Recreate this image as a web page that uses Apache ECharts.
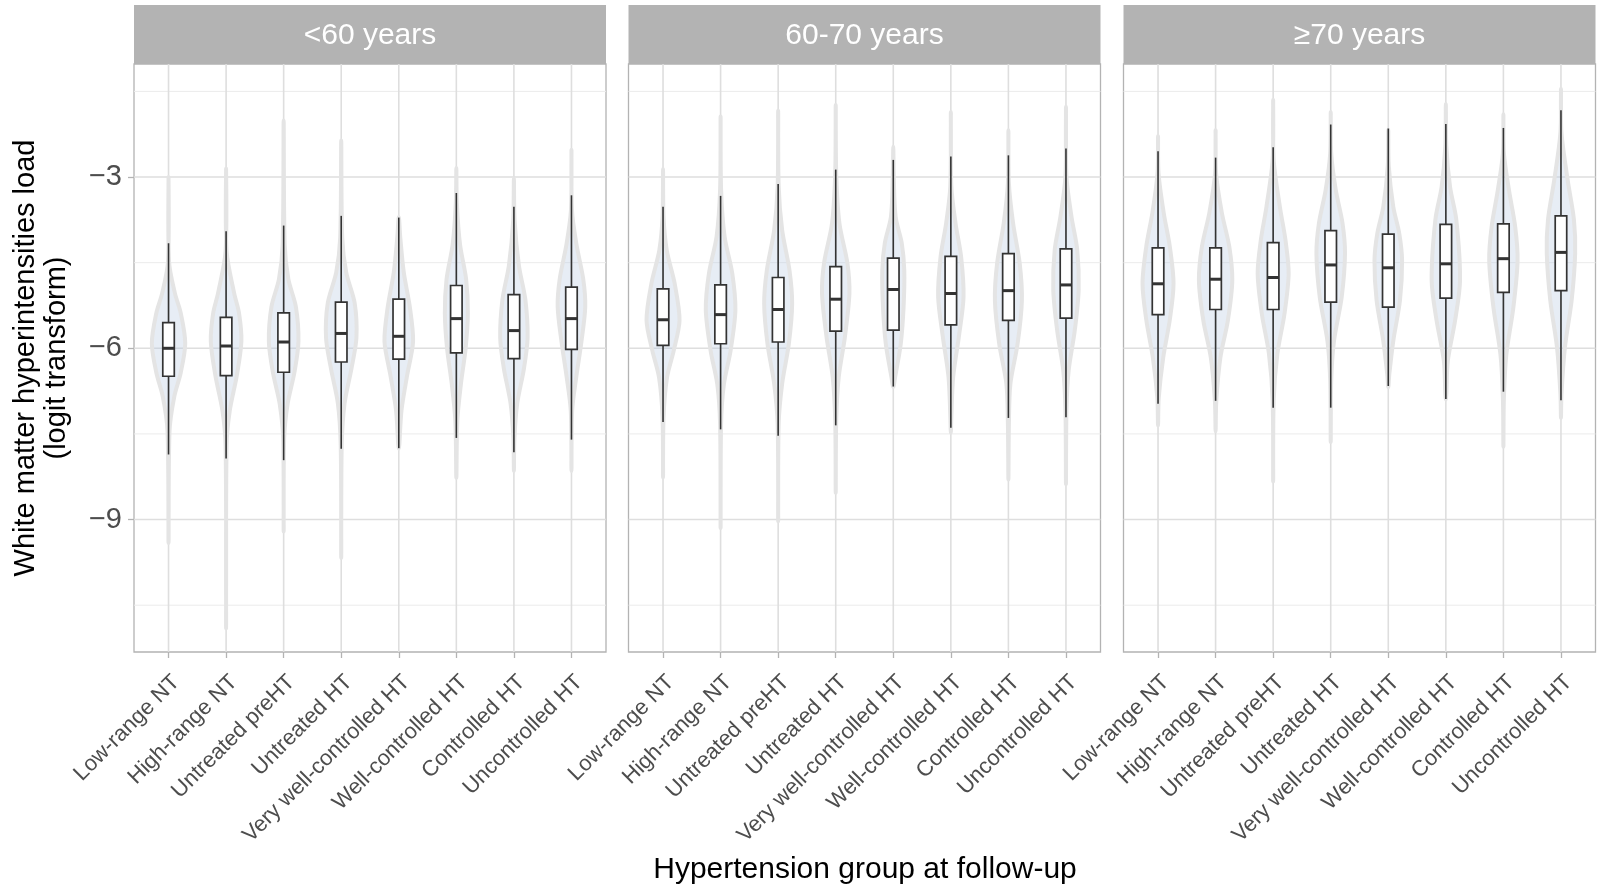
<!DOCTYPE html>
<html>
<head>
<meta charset="utf-8">
<script src="https://cdn.jsdelivr.net/npm/echarts@6.0.0/dist/echarts.min.js"></script>
<style>
html,body{margin:0;padding:0;background:#ffffff;}
#chart{width:1603px;height:885px;}
</style>
</head>
<body>
<div id="chart"></div>
<script>
// ---------------- DATA ----------------
const categories = ['Low-range NT','High-range NT','Untreated preHT','Untreated HT',
  'Very well-controlled HT','Well-controlled HT','Controlled HT','Uncontrolled HT'];
const panelTitles = ['<60 years','60-70 years','\u226570 years'];
const yTickValues = [-9, -6, -3];
const yMinorGrid = [-10.5, -7.5, -4.5, -1.5];
const xAxisTitle = 'Hypertension group at follow-up';
const yAxisTitle = 'White matter hyperintensities load\n(logit transform)';

// boxplot stats per group: [lower whisker, Q1, median, Q3, upper whisker]
const boxLt60 = [
  [-7.86,-6.49,-6.00,-5.55,-4.16],
  [-7.93,-6.48,-5.96,-5.46,-3.95],
  [-7.96,-6.42,-5.89,-5.38,-3.85],
  [-7.76,-6.24,-5.74,-5.19,-3.68],
  [-7.75,-6.19,-5.79,-5.14,-3.71],
  [-7.57,-6.08,-5.48,-4.90,-3.28],
  [-7.82,-6.18,-5.69,-5.06,-3.52],
  [-7.60,-6.02,-5.48,-4.93,-3.32]
];
const box6070 = [
  [-7.29,-5.95,-5.50,-4.96,-3.52],
  [-7.42,-5.92,-5.41,-4.89,-3.33],
  [-7.53,-5.89,-5.32,-4.76,-3.12],
  [-7.35,-5.70,-5.14,-4.57,-2.87],
  [-6.67,-5.68,-4.97,-4.42,-2.70],
  [-7.39,-5.59,-5.04,-4.39,-2.64],
  [-7.22,-5.51,-4.99,-4.34,-2.62],
  [-7.21,-5.47,-4.89,-4.26,-2.50]
];
const boxGe70 = [
  [-6.97,-5.41,-4.87,-4.24,-2.55],
  [-6.92,-5.32,-4.79,-4.24,-2.66],
  [-7.04,-5.32,-4.76,-4.15,-2.48],
  [-7.04,-5.19,-4.54,-3.94,-2.08],
  [-6.66,-5.28,-4.59,-4.00,-2.15],
  [-6.89,-5.12,-4.52,-3.83,-2.07],
  [-6.76,-5.02,-4.43,-3.82,-2.14],
  [-6.91,-4.99,-4.32,-3.68,-1.83]
];

// violin outlines: [value, half-width (density width units)]
const violinLt60 = [
  [[-3.00,0],[-4.48,0.5],[-5.03,6.3],[-5.39,12.3],[-5.91,16.7],[-6.42,12.3],[-6.85,5.7],[-7.45,1],[-9.41,0]],
  [[-2.85,0],[-4.30,0.5],[-5.03,8],[-5.39,13],[-5.88,15.3],[-6.48,10.7],[-7.09,3.7],[-7.70,0.5],[-10.91,0]],
  [[-2.01,0],[-4.18,1],[-4.79,4.7],[-5.27,12.2],[-5.88,14.8],[-6.42,10.8],[-6.97,4],[-7.58,0.5],[-9.21,0]],
  [[-2.36,0],[-4.06,1],[-4.67,5],[-5.21,13.5],[-5.82,15.2],[-6.36,10.2],[-6.97,3.3],[-7.70,0.5],[-9.67,0]],
  [[-3.70,0],[-4.06,1.5],[-4.67,5],[-5.27,11],[-5.88,14.3],[-6.48,8.3],[-7.09,2.7],[-7.76,0]],
  [[-2.84,0],[-3.45,0.5],[-4.18,3.7],[-4.79,9.8],[-5.39,11.5],[-6.00,9.3],[-6.61,4.7],[-7.27,1],[-8.27,0]],
  [[-3.02,0],[-3.76,0.7],[-4.55,5],[-5.15,11.5],[-5.82,13.7],[-6.36,10],[-6.97,3.3],[-7.58,0.5],[-8.15,0]],
  [[-2.52,0],[-3.58,0.5],[-4.18,5],[-4.79,11.8],[-5.27,13.8],[-5.88,10],[-6.48,5],[-7.09,0.7],[-8.15,0]]
];
const violin6070 = [
  [[-2.86,0],[-3.69,0.5],[-4.28,3.7],[-4.87,11.7],[-5.51,16.5],[-6.04,10.7],[-6.51,4],[-7.21,0.5],[-8.27,0]],
  [[-1.94,0],[-3.22,0.5],[-4.04,4],[-4.69,11.7],[-5.33,14.8],[-6.04,10],[-6.63,3.3],[-7.33,0.5],[-9.15,0]],
  [[-1.84,0],[-3.16,0.5],[-3.93,4],[-4.63,11.3],[-5.22,14],[-5.92,10.7],[-6.62,4],[-7.33,0.5],[-9.03,0]],
  [[-1.74,0],[-2.93,0.5],[-3.81,3.7],[-4.51,11.7],[-5.04,13.7],[-5.80,9.2],[-6.51,3],[-7.27,0.5],[-8.53,0]],
  [[-2.47,0],[-2.99,0.5],[-3.69,2.3],[-4.16,8.5],[-4.63,11],[-5.28,10.3],[-5.92,7.5],[-6.51,1.8],[-6.68,0]],
  [[-1.86,0],[-3.16,0.5],[-3.81,4.7],[-4.40,10.3],[-5.10,12.7],[-5.80,8],[-6.51,2.3],[-7.21,0.5],[-7.48,0]],
  [[-2.18,0],[-3.11,0.5],[-3.81,4.7],[-4.51,11.3],[-5.16,13.5],[-5.92,9.2],[-6.62,2],[-7.33,0.5],[-8.30,0]],
  [[-1.77,0],[-2.99,0.5],[-3.69,5.5],[-4.28,11.3],[-4.98,12.7],[-5.69,8.8],[-6.39,2.7],[-7.09,0.5],[-8.38,0]]
];
const violinGe70 = [
  [[-2.28,0],[-2.93,0.5],[-3.63,5.7],[-4.22,11.8],[-4.87,15.5],[-5.51,11.7],[-6.16,5.2],[-6.87,0.7],[-7.35,0]],
  [[-2.18,0],[-2.93,0.5],[-3.63,6.3],[-4.22,13.7],[-4.81,16.7],[-5.51,12.3],[-6.16,4.8],[-6.92,0.7],[-7.45,0]],
  [[-1.65,0],[-2.69,0.5],[-3.52,6.7],[-4.10,12.3],[-4.69,15.5],[-5.40,11.3],[-6.10,4.2],[-6.92,0.5],[-8.33,0]],
  [[-1.86,0],[-2.58,0.5],[-3.22,5],[-3.81,11.8],[-4.34,14.3],[-5.10,11],[-5.87,3.3],[-6.57,0.5],[-7.64,0]],
  [[-2.17,0],[-2.81,0.5],[-3.52,5],[-3.99,11],[-4.46,13.8],[-5.16,11.7],[-5.87,5],[-6.46,1],[-6.68,0]],
  [[-1.72,0],[-2.46,0.5],[-3.17,4.2],[-3.75,10.5],[-4.81,14.2],[-5.51,9.3],[-6.22,2],[-6.81,0.5],[-6.90,0]],
  [[-1.90,0],[-2.58,0.5],[-3.22,5.5],[-3.87,11.8],[-4.46,14.2],[-5.28,10],[-6.10,3],[-6.87,0.5],[-7.72,0]],
  [[-1.46,0],[-2.22,0.5],[-3.05,6.7],[-3.75,13],[-4.34,14.2],[-5.16,10.7],[-5.98,4],[-6.81,0.5],[-7.22,0]]
];

const panelBoxes = [boxLt60, box6070, boxGe70];
const panelViolins = [violinLt60, violin6070, violinGe70];

// ---------------- LAYOUT / STYLE ----------------
const FONT = '"Liberation Sans", Arial, Helvetica, sans-serif';
const GRID_LEFT = [134, 628.5, 1123.5];
const GRID_W = 472, GRID_TOP = 64, GRID_H = 588;
const STRIP_TOP = 5, STRIP_H = 59;
const X_MIN = 0.4, X_MAX = 8.6, Y_MIN = -11.32, Y_MAX = -1.02;
const HW_UNIT = 1 / 57.6;   // density width unit -> category units
const BOX_HALF = 0.1;
const catPositions = categories.map((c, i) => i + 1);

const chart = echarts.init(document.getElementById('chart'), null, {renderer: 'canvas'});

function hGridRender(params, api) {
  const cs = params.coordSys;
  const v = api.value(1);
  const y = api.coord([X_MIN, v])[1];
  const major = yTickValues.indexOf(v) >= 0;
  return {
    type: 'line',
    shape: {x1: cs.x, y1: y, x2: cs.x + cs.width, y2: y},
    style: {stroke: major ? '#dedede' : '#ebebeb', lineWidth: major ? 1.6 : 1.0},
    silent: true
  };
}
function vGridRender(params, api) {
  const cs = params.coordSys;
  const x = api.coord([api.value(0), Y_MIN])[0];
  return {
    type: 'line',
    shape: {x1: x, y1: cs.y, x2: x, y2: cs.y + cs.height},
    style: {stroke: '#dedede', lineWidth: 1.6},
    silent: true
  };
}
function makeViolinRender(profiles) {
  return function (params, api) {
    const cat = api.value(0);
    const lo = api.value(1), q1 = api.value(2), med = api.value(3), q3 = api.value(4), hi = api.value(5);
    const prof = profiles[params.dataIndex];
    const right = [], left = [];
    prof.forEach(function (p) {
      const w = p[1] * HW_UNIT;
      right.push(api.coord([cat + w, p[0]]));
      if (p[1] > 0) left.unshift(api.coord([cat - w, p[0]]));
    });
    const pts = right.concat(left);
    const bTL = api.coord([cat - BOX_HALF, q3]);
    const bBR = api.coord([cat + BOX_HALF, q1]);
    const pHi = api.coord([cat, hi]), pQ3 = api.coord([cat, q3]);
    const pQ1 = api.coord([cat, q1]), pLo = api.coord([cat, lo]);
    const mL = api.coord([cat - BOX_HALF, med]), mR = api.coord([cat + BOX_HALF, med]);
    return {
      type: 'group',
      children: [
        {type: 'polygon', shape: {points: pts, smooth: 0.3},
         style: {fill: 'rgba(176,196,222,0.3)', stroke: '#e4e4e4', lineWidth: 4, lineJoin: 'round'}},
        {type: 'line', shape: {x1: pHi[0], y1: pHi[1], x2: pQ3[0], y2: pQ3[1]},
         style: {stroke: '#333333', lineWidth: 1.6}},
        {type: 'line', shape: {x1: pQ1[0], y1: pQ1[1], x2: pLo[0], y2: pLo[1]},
         style: {stroke: '#333333', lineWidth: 1.6}},
        {type: 'rect', shape: {x: bTL[0], y: bTL[1], width: bBR[0] - bTL[0], height: bBR[1] - bTL[1]},
         style: {fill: '#ffffff', stroke: '#333333', lineWidth: 1.7}},
        {type: 'line', shape: {x1: mL[0], y1: mL[1], x2: mR[0], y2: mR[1]},
         style: {stroke: '#333333', lineWidth: 3}}
      ]
    };
  };
}

const grids = [], xAxes = [], yAxes = [], series = [], graphics = [];
const hGridValues = yMinorGrid.concat(yTickValues);

for (let i = 0; i < 3; i++) {
  grids.push({left: GRID_LEFT[i], top: GRID_TOP, width: GRID_W, height: GRID_H,
    show: true, backgroundColor: '#ffffff', borderColor: '#b3b3b3', borderWidth: 1.3, containLabel: false});
  xAxes.push({
    gridIndex: i, type: 'value', min: X_MIN, max: X_MAX,
    axisLine: {show: false}, splitLine: {show: false},
    axisTick: {show: true, customValues: catPositions, length: 6, lineStyle: {color: '#b3b3b3', width: 1.3}},
    axisLabel: {show: true, customValues: catPositions, rotate: 45, align: 'right', verticalAlign: 'top',
      margin: 19, fontSize: 22, color: '#4d4d4d', fontFamily: FONT,
      formatter: function (v) { return categories[Math.round(v) - 1]; }}
  });
  yAxes.push({
    gridIndex: i, type: 'value', min: Y_MIN, max: Y_MAX,
    axisLine: {show: false}, splitLine: {show: false},
    axisTick: {show: i === 0, customValues: yTickValues, length: 6, lineStyle: {color: '#b3b3b3', width: 1.3}},
    axisLabel: {show: i === 0, customValues: yTickValues, margin: 12, fontSize: 29, color: '#4d4d4d',
      fontFamily: FONT, formatter: function (v) { return String(v).replace('-', '\u2212'); }}
  });
  series.push({
    type: 'custom', name: 'hgrid' + i, xAxisIndex: i, yAxisIndex: i, z: 1, silent: true, clip: false,
    encode: {x: 0, y: 1}, renderItem: hGridRender,
    data: hGridValues.map(function (v) { return [X_MIN, v]; })
  });
  series.push({
    type: 'custom', name: 'vgrid' + i, xAxisIndex: i, yAxisIndex: i, z: 1, silent: true, clip: false,
    encode: {x: 0, y: 1}, renderItem: vGridRender,
    data: catPositions.map(function (c) { return [c, Y_MIN]; })
  });
  series.push({
    type: 'custom', name: panelTitles[i], xAxisIndex: i, yAxisIndex: i, z: 3, clip: false,
    encode: {x: 0, y: [1, 2, 3, 4, 5]},
    renderItem: makeViolinRender(panelViolins[i]),
    data: panelBoxes[i].map(function (b, j) { return [catPositions[j]].concat(b); })
  });
  graphics.push({type: 'rect', left: GRID_LEFT[i], top: STRIP_TOP,
    shape: {width: GRID_W, height: STRIP_H}, style: {fill: '#b3b3b3'}, z: 10});
  graphics.push({type: 'text', x: GRID_LEFT[i] + GRID_W / 2, y: STRIP_TOP + STRIP_H / 2 + 1.5, z: 11,
    style: {text: panelTitles[i], fill: '#ffffff', fontSize: 30, fontFamily: FONT,
      align: 'center', verticalAlign: 'middle'}});
}
graphics.push({type: 'text', x: 865, y: 870, z: 11,
  style: {text: xAxisTitle, fill: '#000000', fontSize: 30, fontFamily: FONT, align: 'center', verticalAlign: 'middle'}});
graphics.push({type: 'text', x: 41, y: 358, rotation: Math.PI / 2, z: 11,
  style: {text: yAxisTitle, fill: '#000000', fontSize: 29, lineHeight: 31, fontFamily: FONT,
    align: 'center', verticalAlign: 'middle'}});

chart.setOption({
  animation: false,
  backgroundColor: '#ffffff',
  textStyle: {fontFamily: FONT},
  grid: grids, xAxis: xAxes, yAxis: yAxes, series: series, graphic: graphics
});
</script>
</body>
</html>
